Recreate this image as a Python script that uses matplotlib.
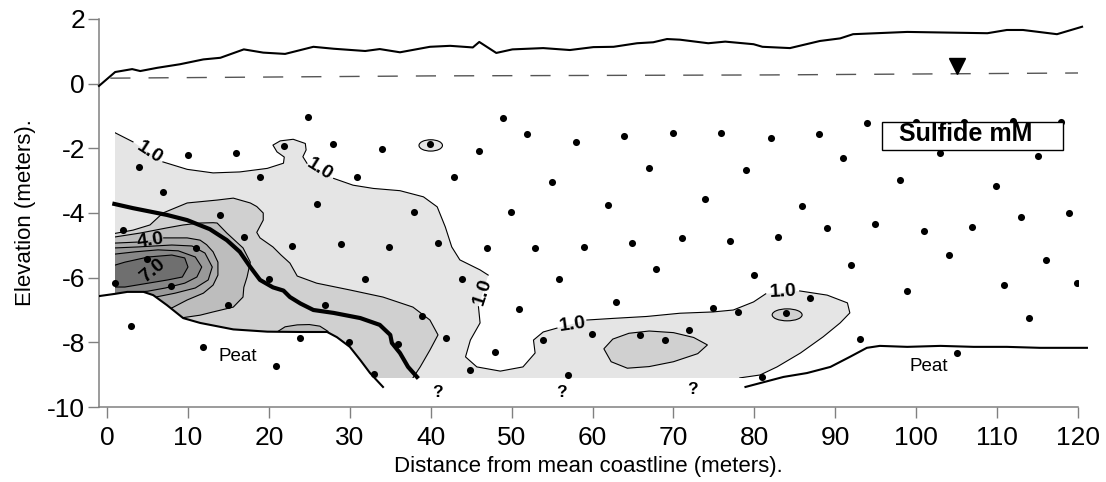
import numpy as np
import matplotlib
matplotlib.use('Agg')
import matplotlib.pyplot as plt
from matplotlib.patches import Ellipse, Rectangle

plt.rcParams['font.family'] = ['Liberation Sans', 'DejaVu Sans']
plt.rcParams['axes.unicode_minus'] = False

# superficie del terreno
suelo_x = [-1, 1.0, 3.1, 4.1, 6.2, 9.0, 11.9, 14.0, 16.9, 19.3, 22.0, 25.5, 28.0, 31.9, 33.7, 36.2,
           39.9, 42.4, 45.2, 46.0, 48.1, 50.1, 53.9, 57.2, 60.1, 62.6, 65.5, 67.5, 69.2, 70.8, 74.3,
           76.4, 79.9, 81.0, 84.4, 88.1, 90.6, 92.2, 98.9, 103.8, 108.8, 111.2, 113.2, 117.4, 120.5]
suelo_y = [-0.07, 0.36, 0.45, 0.39, 0.49, 0.60, 0.75, 0.80, 1.06, 0.96, 0.92, 1.14, 1.08, 1.01, 1.07, 0.97,
           1.14, 1.17, 1.12, 1.29, 0.95, 1.06, 1.10, 1.04, 1.13, 1.14, 1.25, 1.28, 1.38, 1.36, 1.25,
           1.30, 1.22, 1.14, 1.10, 1.32, 1.40, 1.53, 1.60, 1.58, 1.56, 1.66, 1.66, 1.53, 1.76]

# nivel freatico
agua_x = [0.4, 40, 82, 120]
agua_y = [0.17, 0.24, 0.27, 0.33]
marca_agua = (105.1, 0.55)

# turba (izquierda y derecha)
turba1_x = [-1, 1.0, 2.5, 4.5, 5.7, 7.4, 9.4, 11.5, 15.6, 19.8, 23.9, 27.2, 28.4, 30.0, 31.3, 32.5, 34.1]
turba1_y = [-6.57, -6.50, -6.44, -6.44, -6.54, -6.85, -7.25, -7.40, -7.60, -7.67, -7.68, -7.68, -7.84,
            -8.14, -8.55, -8.95, -9.38]
turba2_x = [78.9, 83.6, 86.5, 89.4, 91.8, 93.9, 95.5, 98.9, 103.0, 107.1, 111.2, 115.3, 121.1]
turba2_y = [-9.38, -9.07, -8.95, -8.76, -8.45, -8.17, -8.11, -8.14, -8.11, -8.14, -8.14, -8.17, -8.17]

# linea gruesa
gruesa_x = [0.9, 3.2, 7.4, 9.9, 12.7, 14.8, 16.4, 17.7, 18.9, 20.5, 21.8, 22.6, 23.9, 25.5, 28.0, 31.3,
            33.7, 35.0, 35.2, 36.2, 37.2, 38.3]
gruesa_y = [-3.72, -3.85, -4.06, -4.22, -4.50, -4.84, -5.20, -5.67, -6.07, -6.30, -6.40, -6.60, -6.80,
            -7.00, -7.09, -7.25, -7.46, -7.77, -8.02, -8.33, -8.76, -9.07]

nan = np.nan
# contornos de sulfuro (nan = hueco de la etiqueta)
c1_x = [1.0, 3.2, nan, 6.9, 9.9, 13.1, 16.4, 19.8, 21.8, 21.9, 21.0, 20.5, 21.4, 23.0, 24.5, 24.6, 24.2,
        24.7, nan, 28.0, 30.4, 32.9, 36.2, 39.1, 40.8, 41.8, 42.6, 43.6, 46.1, 47.1, nan, 45.9, 46.1,
        44.9, 44.3, 45.7, 48.6, 51.4, 52.9, 52.7, 53.9, 55.6, nan, 59.3, 62.5, 66.7, 70.8, 74.9, 77.4,
        79.9, 81.4, nan, 85.6, 89.0, 91.5, 91.8, 90.6, 88.5, 85.7, 82.8, 80.7, 78.2]
c1_y = [-1.52, -1.80, nan, -2.42, -2.65, -2.76, -2.73, -2.62, -2.46, -2.27, -2.11, -1.90, -1.77, -1.72,
        -1.85, -2.05, -2.26, -2.46, nan, -2.93, -3.14, -3.24, -3.31, -3.50, -3.81, -4.43, -5.05, -5.45,
        -5.76, -5.92, nan, -6.90, -7.40, -7.93, -8.45, -8.76, -8.89, -8.76, -8.33, -7.93, -7.68, -7.56,
        nan, -7.31, -7.26, -7.20, -7.10, -7.06, -7.00, -6.75, -6.50, nan, -6.41, -6.54, -6.78, -7.09,
        -7.40, -7.83, -8.33, -8.76, -9.01, -9.10]
c2_x = [1.0, 3.2, 5.3, 6.9, 9.9, 13.6, 15.6, 17.7, 18.5, 19.3, 19.3, 18.5, 18.9, 20.5, 21.5, 22.6, 23.5,
        25.9, 30.0, 34.1, 37.8, 39.9, 40.9, 39.9, 38.7, 37.8]
c2_y = [-4.63, -4.53, -4.37, -4.00, -3.69, -3.60, -3.54, -3.69, -3.80, -4.00, -4.22, -4.60, -4.77, -5.05,
        -5.30, -5.55, -5.95, -6.17, -6.38, -6.60, -6.91, -7.31, -7.77, -8.24, -8.76, -9.10]
c3_x = [1.0, 4.1, 7.4, 9.4, 11.5, 13.1, 13.6, 14.8, 16.8, 17.7, 17.3, 16.9, 16.8, 15.6, 13.1, 11.5, 9.3]
c3_y = [-4.74, -4.62, -4.46, -4.37, -4.31, -4.30, -4.31, -4.62, -5.08, -5.52, -5.98, -6.30, -6.60, -6.91,
        -7.06, -7.16, -7.24]
c4_x = [1.0, 3.7, nan, 7.0, 9.9, 11.5, 12.3, 13.1, 13.7, 13.7, 13.1, 11.9, 9.9, 7.9]
c4_y = [-4.93, -4.90, nan, -4.77, -4.77, -4.84, -4.98, -5.20, -5.52, -5.92, -6.23, -6.48, -6.69, -6.95]
c5_x = [1.0, 3.8, 8.0, 10.5, 12.1, 13.0, 12.5, 10.9, 8.4, 6.0]
c5_y = [-5.08, -5.05, -4.99, -5.02, -5.24, -5.67, -6.07, -6.32, -6.48, -6.60]
c6_x = [1.0, 3.5, 6.3, 8.8, 10.9, 11.7, 11.1, 9.6, 7.2, 5.0, 3.8]
c6_y = [-5.27, -5.20, -5.14, -5.17, -5.36, -5.67, -5.98, -6.17, -6.32, -6.42, -6.44]
c7_x = [1.0, 2.2, 5.1, 8.0, 9.6, 10.0, 9.3, 7.5, 5.1, 2.2, 1.0]
c7_y = [-5.61, -5.52, -5.36, -5.30, -5.39, -5.67, -5.98, -6.07, -6.17, -6.29, -6.29]

# manchas pequenas
mancha3_x = [21.0, 22.0, 23.5, 25.0, 26.3, 27.3]
mancha3_y = [-7.68, -7.52, -7.46, -7.45, -7.50, -7.66]
isla2_x = [61.4, 62.5, 64.5, 67.0, 70.0, 72.5, 74.2, 73.0, 70.0, 67.0, 64.3, 62.3, 61.4]
isla2_y = [-8.20, -7.90, -7.72, -7.65, -7.70, -7.85, -8.08, -8.35, -8.60, -8.75, -8.80, -8.60, -8.20]
elipses = [(40.0, -1.91, 2.9, 0.35, 1), (84.05, -7.15, 3.7, 0.37, 2)]  # x, y, ancho, alto, nivel

colores = ['#e5e5e5', '#d0d0d0', '#bdbdbd', '#ababab', '#999999', '#878787', '#6f6f6f']

etiquetas = [('1.0', 5.3, -2.12, -33), ('1.0', 26.3, -2.66, -32), ('1.0', 46.4, -6.42, 72),
             ('1.0', 57.5, -7.45, 8), ('1.0', 83.5, -6.45, 3), ('4.0', 5.4, -4.86, 8),
             ('7.0', 5.6, -5.78, 40)]

# puntos de muestreo
puntos = [(24.8, -1.03), (10.0, -2.21), (15.9, -2.15), (21.9, -1.93), (27.9, -1.86), (34.0, -2.01),
          (4.0, -2.59), (18.9, -2.90), (30.9, -2.90), (6.9, -3.35), (25.9, -3.72), (13.9, -4.06),
          (2.0, -4.53), (16.9, -4.74), (22.9, -5.02), (28.9, -4.96), (34.9, -5.05),
          (39.9, -1.87), (48.9, -1.07), (51.9, -1.57), (46.0, -2.09), (58.0, -1.80), (63.9, -1.62),
          (70.0, -1.52), (75.9, -1.53), (82.0, -1.69), (42.9, -2.89), (55.0, -3.05), (67.0, -2.61),
          (79.0, -2.67), (37.9, -3.98), (49.9, -3.96), (61.9, -3.75), (73.9, -3.57), (40.9, -4.93),
          (47.0, -5.09), (52.9, -5.07), (58.9, -5.04), (64.9, -4.93), (71.0, -4.78), (77.0, -4.87),
          (82.9, -4.75), (88.0, -1.55), (93.9, -1.21), (100.0, -1.19), (105.9, -1.19), (112.0, -1.15),
          (117.9, -1.19), (91.0, -2.31), (103.0, -2.15), (115.0, -2.24), (98.0, -2.97), (109.9, -3.15),
          (85.9, -3.78), (89.0, -4.45), (94.9, -4.34), (101.0, -4.56), (106.9, -4.43), (113.0, -4.13),
          (118.9, -4.00), (11.0, -5.08), (4.9, -5.42), (1.0, -6.17), (7.9, -6.26), (20.0, -6.04),
          (31.9, -6.04), (15.0, -6.85), (26.9, -6.85), (3.0, -7.50), (23.9, -7.87), (29.9, -7.99),
          (35.9, -8.05), (11.9, -8.14), (20.9, -8.74), (33.0, -8.99), (43.9, -6.05), (55.9, -6.04),
          (67.9, -5.74), (79.9, -5.92), (50.9, -6.97), (62.9, -6.75), (74.9, -6.93), (78.0, -7.06),
          (38.9, -7.19), (41.9, -7.87), (48.0, -8.30), (53.9, -7.93), (59.9, -7.75), (65.9, -7.77),
          (69.0, -7.93), (71.9, -7.62), (44.9, -8.86), (57.0, -9.01), (81.0, -9.07), (92.0, -5.61),
          (104.0, -5.30), (116.0, -5.46), (98.9, -6.41), (110.9, -6.23), (119.9, -6.17), (86.9, -6.63),
          (83.9, -7.09), (114.0, -7.25), (93.0, -7.90), (105.0, -8.33)]

textos = [('Peat', 16.1, -8.45), ('Peat', 101.5, -8.76)]
interrogantes = [(40.8, -9.55), (56.1, -9.55), (72.4, -9.45)]

fig = plt.figure(figsize=(11.06, 4.82), dpi=100)
ax = fig.add_axes([0.0895, 0.1556, 0.8852, 0.805])

fondo = -10.5
contornos = [(c1_x, c1_y), (c2_x, c2_y), (c3_x, c3_y), (c4_x, c4_y), (c5_x, c5_y), (c6_x, c6_y), (c7_x, c7_y)]
for i, (cx, cy) in enumerate(contornos):
    cx = np.array(cx); cy = np.array(cy)
    ok = ~np.isnan(cx)
    px = np.concatenate([cx[ok], [cx[ok][-1], -0.5, -0.5]])
    py = np.concatenate([cy[ok], [fondo, fondo, cy[ok][0]]])
    ax.fill(px, py, color=colores[i], lw=0, zorder=1)
    ax.plot(cx, cy, color='black', lw=0.8, zorder=1.5)

# mancha sobre la turba
ax.fill(mancha3_x + [mancha3_x[-1], mancha3_x[0]], mancha3_y + [-8.2, -8.2], color=colores[2], lw=0, zorder=1.2)
ax.plot(mancha3_x, mancha3_y, color='black', lw=0.8, zorder=1.5)
ax.fill(isla2_x, isla2_y, facecolor=colores[1], edgecolor='black', lw=0.8, zorder=1.5)
for ex, ey, ew, eh, nv in elipses:
    ax.add_patch(Ellipse((ex, ey), ew, eh, facecolor=colores[nv - 1], edgecolor='black', lw=0.8, zorder=1.5))

# mascaras blancas fuera del dominio
ax.fill(turba1_x + [turba1_x[-1], -1], turba1_y + [fondo, fondo], color='white', lw=0, zorder=2)
ax.fill([-1, 1, 1, -1], [-1, -1, fondo, fondo], color='white', lw=0, zorder=2)
ax.fill([30, 80, 80, 30], [-9.1, -9.1, fondo, fondo], color='white', lw=0, zorder=2)

ax.plot(suelo_x, suelo_y, color='black', lw=1.5, zorder=3, clip_on=False)
ax.plot(agua_x, agua_y, color='#555555', lw=1.0, ls=(0, (14.5, 13)), zorder=3)
ax.plot(*marca_agua, marker='v', color='black', ms=12, zorder=3)
ax.plot(turba1_x, turba1_y, color='black', lw=1.5, zorder=3)
ax.plot(turba2_x, turba2_y, color='black', lw=1.5, zorder=3, clip_on=False)
ax.plot(gruesa_x, gruesa_y, color='black', lw=3, zorder=3)

ax.scatter([p[0] for p in puntos], [p[1] for p in puntos], s=26, color='black', zorder=4, lw=0)

for t, tx, ty, rot in etiquetas:
    ax.text(tx, ty, t, fontsize=14, fontweight='bold', rotation=rot, ha='center', va='center',
            rotation_mode='anchor', zorder=6)
for t, tx, ty in textos:
    ax.text(tx, ty, t, fontsize=13.5, ha='center', va='center', zorder=6)
for tx, ty in interrogantes:
    ax.text(tx, ty, '?', fontsize=12.5, fontweight='bold', ha='center', va='center', zorder=6)

ax.add_patch(Rectangle((95.8, -2.05), 22.4, 0.86, facecolor='white', edgecolor='black', lw=1, zorder=5))
ax.text(106.1, -1.55, 'Sulfide mM', fontsize=18, fontweight='bold', ha='center', va='center', zorder=6)

ax.set_xlim(-1, 120)
ax.set_ylim(-10, 2)
ax.set_xticks(range(0, 121, 10))
ax.set_yticks(range(-10, 3, 2))
for s in ['top', 'right']:
    ax.spines[s].set_visible(False)
for s in ['left', 'bottom']:
    ax.spines[s].set_color('#808080')
    ax.spines[s].set_linewidth(1.1)
ax.tick_params(direction='out', length=8, width=1, color='#808080', labelsize=19)
ax.tick_params(axis='x', pad=6)
ax.tick_params(axis='y', pad=2)
ax.set_xlabel('Distance from mean coastline (meters).', fontsize=16, labelpad=4)
ax.set_ylabel('Elevation (meters).', fontsize=16, labelpad=8)

fig.savefig('out.png', dpi=100)
